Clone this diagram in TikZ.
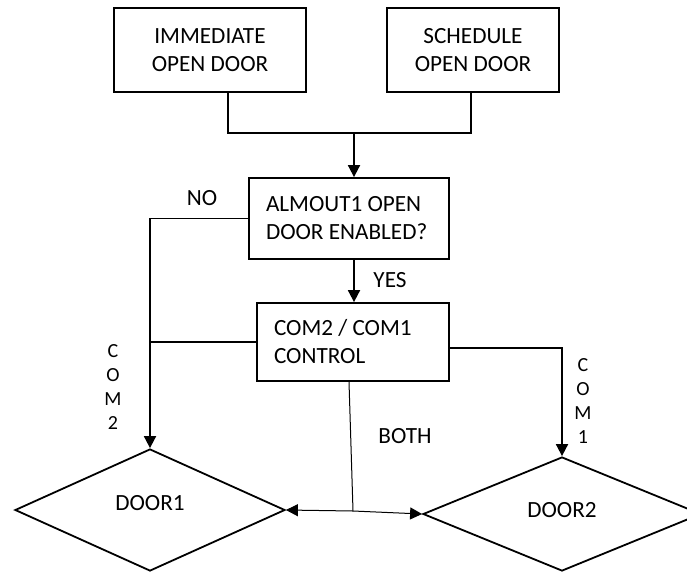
\documentclass[tikz,border=0pt]{standalone}
\usepackage{fontspec}
\setmainfont{Carlito}
\usetikzlibrary{shapes.geometric,arrows.meta}
\begin{document}
\begin{tikzpicture}[x=1pt,y=-1pt,
  box/.style={draw,line width=1.8pt,inner sep=0pt,font=\fontsize{23.2}{28}\selectfont},
  dmd/.style={draw,diamond,line width=1.8pt,inner sep=0pt,font=\fontsize{23.2}{28}\selectfont},
  conn/.style={line width=1.8pt},
  tip/.style={-{Triangle[length=12pt,width=12pt]}},
  thinconn/.style={line width=1pt},
  lbl/.style={font=\fontsize{23.2}{28}\selectfont,inner sep=0pt},
  vlbl/.style={font=\fontsize{20}{24}\selectfont,align=center,inner sep=0pt}]
\useasboundingbox (0,0) rectangle (687,573);
\node[box,minimum width=192pt,minimum height=84pt,align=center] (imm) at (210,50) {IMMEDIATE\\OPEN DOOR};
\node[box,minimum width=172pt,minimum height=84pt,align=center] (sch) at (473,50) {SCHEDULE\\OPEN DOOR};
\node[box,minimum width=200pt,minimum height=81pt,text width=166pt,align=flush left,inner xsep=17pt] (alm) at (349,218.5) {ALMOUT1 OPEN\\DOOR ENABLED?};
\node[box,minimum width=192pt,minimum height=78pt,text width=158pt,align=flush left,inner xsep=17pt] (com) at (353,342) {COM2 / COM1\\CONTROL};
\node[dmd,minimum width=270pt,minimum height=122pt,text depth=14pt] (d1) at (150,510) {DOOR1};
\node[dmd,minimum width=278pt,minimum height=114pt,text depth=8pt] (d2) at (562,514) {DOOR2};
\coordinate (jl) at (228,133);
\coordinate (jr) at (471,133);
\coordinate (jm) at (354,133);
\coordinate (bj) at (353,511);
\draw[conn] (imm.south -| jl) -- (jl) -- (jr) -- (sch.south -| jr);
\draw[conn,tip] (jm) -- (jm |- alm.north);
\draw[conn,tip] (alm.west) -- (alm.west -| d1.north) -- (d1.north);
\draw[conn] (com.west) -- (com.west -| d1.north);
\draw[conn,tip] (jm |- alm.south) -- (jm |- com.north);
\draw[conn,tip] ([yshift=-6pt]com.east) -- ([yshift=-6pt]com.east -| d2.north) -- (d2.north);
\draw[thinconn] ([xshift=-4pt]com.south) -- (bj);
\draw[thinconn,tip] (bj) -- (d1.east);
\draw[thinconn,tip] (bj) -- (d2.west);
\node[lbl] (no) at (202,198) {NO};
\node[lbl] (yes) at (390,280) {YES};
\node[lbl] (both) at (405,436) {BOTH};
\node[vlbl] (c2) at (113,387) {C\\O\\M\\2};
\node[vlbl] (c1) at (583,401) {C\\O\\M\\1};
\end{tikzpicture}
\end{document}
